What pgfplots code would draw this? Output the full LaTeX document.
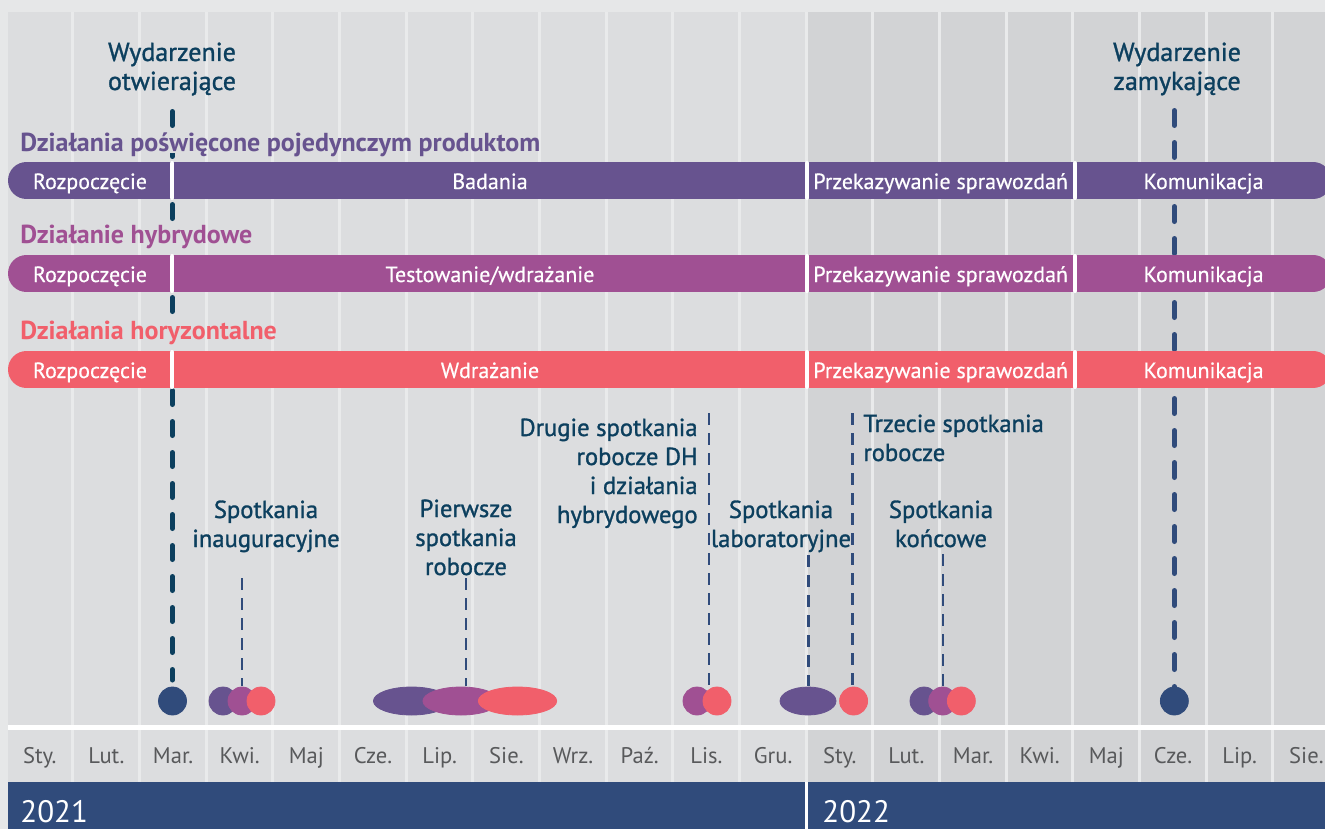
\documentclass[border=0pt]{standalone}
\usepackage{fontspec}
\setmainfont{PT Sans}
\newfontfamily\medfont{PT Sans}[FakeBold=1.2]
\newfontfamily\lightmed{PT Sans}[FakeBold=0.5]
\usepackage{pgfplots}
\pgfplotsset{compat=1.18}
\definecolor{bgout}{HTML}{E6E7E8}
\definecolor{colA}{HTML}{DCDDDF}
\definecolor{colB}{HTML}{D2D3D5}
\definecolor{gapc}{HTML}{E9EAEB}
\definecolor{purp}{HTML}{67538F}
\definecolor{mage}{HTML}{A05093}
\definecolor{cora}{HTML}{F15F6B}
\definecolor{navy}{HTML}{304B7B}
\definecolor{tealc}{HTML}{0C3F5E}
\definecolor{monthc}{HTML}{58595B}

\tikzset{
  evt/.style={font=\medfont\fontsize{12.3}{14.5}\selectfont, text=tealc, inner sep=0pt, anchor=base},
  ttl/.style={font=\medfont\fontsize{13}{15}\selectfont, text=tealc, inner sep=0pt, anchor=base},
  barlab/.style={font=\lightmed\fontsize{11}{12}\selectfont, text=white, inner sep=0pt, anchor=base},
  grp/.style={font=\fontsize{13}{15}\selectfont\bfseries, inner sep=0pt, anchor=base west},
}

\begin{document}
\begin{tikzpicture}
\begin{axis}[scale only axis, width=662.5pt, height=414.5pt,
  xmin=-0.12, xmax=19.755, ymin=0, ymax=829, y dir=reverse,
  axis lines=none, clip=true]
\coordinate (SW) at (rel axis cs:0,0);
\coordinate (NE) at (rel axis cs:1,1);

% background and month columns
\addplot[fill=bgout, draw=none] coordinates {(-0.12,0) (19.755,0) (19.755,829) (-0.12,829)} -- cycle;
\addplot[fill=colA, draw=none] coordinates {(0,12) (11.97,12) (11.97,782) (0,782)} -- cycle;
\addplot[fill=colB, draw=none] coordinates {(11.97,12) (19.755,12) (19.755,782) (11.97,782)} -- cycle;
\addplot[ycomb, gapc, line width=1.5pt, mark=none] coordinates {
 (0.97,782) (1.97,782) (2.97,782) (3.97,782) (4.97,782) (5.97,782) (6.97,782)
 (7.97,782) (8.97,782) (9.97,782) (10.97,782) (11.97,782) (12.97,782) (13.97,782)
 (14.97,782) (15.97,782) (16.97,782) (17.97,782) (18.97,782)};
\addplot[fill=bgout, draw=none] coordinates {(-0.12,0) (19.755,0) (19.755,12) (-0.12,12)} -- cycle;
\addplot[white, line width=2.5pt] coordinates {(0,727.5) (19.755,727.5)};
\addplot[fill=navy, draw=none] coordinates {(0,782) (19.755,782) (19.755,829) (0,829)} -- cycle;
\addplot[white, line width=1.5pt] coordinates {(11.975,782) (11.975,829)};

% event lines (behind the bars)
\addplot[tealc, line width=2.5pt, line cap=round, dash pattern=on 7pt off 8.5pt] coordinates {(2.465,111.5) (2.465,680)};
\addplot[navy, line width=2.5pt, line cap=round, dash pattern=on 7.5pt off 8.5pt] coordinates {(17.495,110.5) (17.495,688)};
% masks behind the group titles
\addplot[colA, line width=6pt] coordinates {(2.465,131) (2.465,153)};
\addplot[colA, line width=6pt] coordinates {(2.465,224) (2.465,253)};
\addplot[colA, line width=6pt] coordinates {(2.465,318) (2.465,350)};

% activity bars
\addplot[purp, line width=18.5pt, line cap=round] coordinates {(0.2775,180.5) (19.575,180.5)};
\addplot[mage, line width=18.5pt, line cap=round] coordinates {(0.2775,273.5) (19.575,273.5)};
\addplot[cora, line width=18.5pt, line cap=round] coordinates {(0.2775,369.5) (19.575,369.5)};
\addplot[white, line width=2pt, line cap=round] coordinates {(2.465,163) (2.465,198)};
\addplot[white, line width=2pt, line cap=round] coordinates {(11.985,163) (11.985,198)};
\addplot[white, line width=2pt, line cap=round] coordinates {(16.005,163) (16.005,198)};
\addplot[white, line width=2pt, line cap=round] coordinates {(2.465,256) (2.465,291)};
\addplot[white, line width=2pt, line cap=round] coordinates {(11.985,256) (11.985,291)};
\addplot[white, line width=2pt, line cap=round] coordinates {(16.005,256) (16.005,291)};
\addplot[white, line width=2pt, line cap=round] coordinates {(2.465,352) (2.465,387)};
\addplot[white, line width=2pt, line cap=round] coordinates {(11.985,352) (11.985,387)};
\addplot[white, line width=2pt, line cap=round] coordinates {(16.005,352) (16.005,387)};

% meeting dashes
\addplot[navy, line width=1.3pt, dash pattern=on 6pt off 4pt] coordinates {(3.51,578) (3.51,686)};
\addplot[navy, line width=1.3pt, dash pattern=on 6pt off 4pt] coordinates {(6.87,578) (6.87,686)};
\addplot[navy, line width=1.3pt, dash pattern=on 6pt off 4pt] coordinates {(10.515,413) (10.515,690)};
\addplot[navy, line width=1.3pt, dash pattern=on 6pt off 4pt] coordinates {(12.009,555) (12.009,686)};
\addplot[navy, line width=1.3pt, dash pattern=on 6pt off 4pt] coordinates {(12.669,413) (12.669,690)};
\addplot[navy, line width=1.3pt, dash pattern=on 6pt off 4pt] coordinates {(14.025,554) (14.025,686)};

% meetings
\addplot[only marks, mark=*, mark size=7pt, navy] coordinates {(2.4675,701) (17.495,701)};
\addplot[only marks, mark=*, mark size=7pt, purp] coordinates {(3.225,701) (13.74,701)};
\addplot[only marks, mark=*, mark size=7pt, mage] coordinates {(3.51,701) (10.335,701) (14.02,701)};
\addplot[only marks, mark=*, mark size=7pt, cora] coordinates {(3.795,701) (10.635,701) (12.684,701) (14.30,701)};
\addplot[only marks, mark=*, mark size=7pt, purp, mark options={xscale=2.72}] coordinates {(6.0525,701)};
\addplot[only marks, mark=*, mark size=7pt, mage, mark options={xscale=2.72}] coordinates {(6.795,701)};
\addplot[only marks, mark=*, mark size=7pt, cora, mark options={xscale=2.8}] coordinates {(7.6425,701)};
\addplot[only marks, mark=*, mark size=7pt, purp, mark options={xscale=2.0}] coordinates {(12.0,701)};

% month names
\addplot[only marks, mark=none, nodes near coords, point meta=explicit symbolic,
  nodes near coords style={anchor=base, inner sep=0pt, text=monthc, font=\fontsize{11.3}{13}\selectfont}]
  table[meta=lab] {
x y lab
0.476 763 Sty.
1.476 763 Lut.
2.476 763 Mar.
3.476 763 Kwi.
4.476 763 Maj
5.476 763 Cze.
6.476 763 Lip.
7.476 763 Sie.
8.476 763 Wrz.
9.476 763 Paź.
10.476 763 Lis.
11.476 763 Gru.
12.476 763 Sty.
13.476 763 Lut.
14.476 763 Mar.
15.476 763 Kwi.
16.476 763 Maj
17.476 763 Cze.
18.476 763 Lip.
19.476 763 Sie.
};

% years
\node[anchor=base west, inner sep=0pt, text=white, font=\fontsize{15.5}{17}\selectfont] at (axis cs:0.18,822) {2021};
\node[anchor=base west, inner sep=0pt, text=white, font=\fontsize{15.5}{17}\selectfont] at (axis cs:12.21,822) {2022};

% group titles
\node[grp, text=purp] at (axis cs:0.18,151) {Działania poświęcone pojedynczym produktom};
\node[grp, text=mage] at (axis cs:0.18,243) {Działanie hybrydowe};
\node[grp, text=cora] at (axis cs:0.18,339) {Działania horyzontalne};

% bar labels
\node[barlab] at (axis cs:1.23,189) {Rozpoczęcie};
\node[barlab] at (axis cs:7.23,189) {Badania};
\node[barlab] at (axis cs:13.99,189) {Przekazywanie sprawozdań};
\node[barlab] at (axis cs:17.934,189) {Komunikacja};
\node[barlab] at (axis cs:1.23,282) {Rozpoczęcie};
\node[barlab] at (axis cs:7.23,282) {Testowanie/wdrażanie};
\node[barlab] at (axis cs:13.99,282) {Przekazywanie sprawozdań};
\node[barlab] at (axis cs:17.934,282) {Komunikacja};
\node[barlab] at (axis cs:1.23,378) {Rozpoczęcie};
\node[barlab] at (axis cs:7.23,378) {Wdrażanie};
\node[barlab] at (axis cs:13.99,378) {Przekazywanie sprawozdań};
\node[barlab] at (axis cs:17.934,378) {Komunikacja};

% events
\node[ttl] at (axis cs:2.46,61) {Wydarzenie};
\node[ttl] at (axis cs:2.46,90) {otwierające};
\node[ttl] at (axis cs:17.535,61) {Wydarzenie};
\node[ttl] at (axis cs:17.535,90) {zamykające};

% meeting annotations
\node[evt] at (axis cs:3.87,518) {Spotkania};
\node[evt] at (axis cs:3.87,547) {inauguracyjne};
\node[evt] at (axis cs:6.87,517) {Pierwsze};
\node[evt] at (axis cs:6.87,546) {spotkania};
\node[evt] at (axis cs:6.87,575) {robocze};
\node[evt, anchor=base east] at (axis cs:10.35,436) {Drugie spotkania};
\node[evt, anchor=base east] at (axis cs:10.35,465) {robocze DH};
\node[evt, anchor=base east] at (axis cs:10.35,494) {i działania};
\node[evt, anchor=base east] at (axis cs:10.35,523) {hybrydowego};
\node[evt] at (axis cs:11.595,518) {Spotkania};
\node[evt] at (axis cs:11.595,547) {laboratoryjne};
\node[evt, anchor=base west] at (axis cs:12.825,432) {Trzecie spotkania};
\node[evt, anchor=base west] at (axis cs:12.825,461) {robocze};
\node[evt] at (axis cs:13.995,518) {Spotkania};
\node[evt] at (axis cs:13.995,547) {końcowe};
\end{axis}
\pgfresetboundingbox
\path[use as bounding box] (SW) rectangle (NE);
\end{tikzpicture}
\end{document}
